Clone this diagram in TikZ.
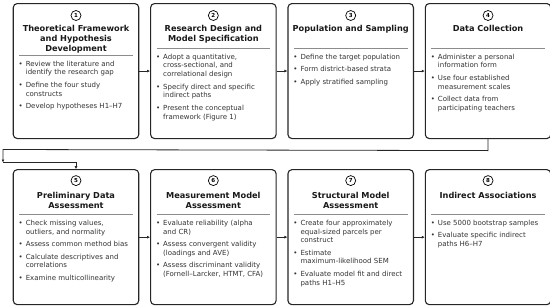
\documentclass[tikz,border=0pt]{standalone}
\usepackage{fontspec}
\setmainfont{DejaVu Sans}
\usetikzlibrary{arrows.meta,positioning,calc}
\definecolor{fEdge}{RGB}{38,38,38}
\definecolor{fText}{RGB}{51,51,51}
\definecolor{fRule}{RGB}{140,140,140}
\tikzset{
stagebox/.style={rectangle,rounded corners=4pt,draw=fEdge,line width=1.1pt,fill=white,minimum width=125.5pt,minimum height=135pt,inner sep=0pt},
stepnum/.style={circle,draw=black,line width=0.7pt,inner sep=0pt,minimum size=10pt,font=\fontsize{5.5}{6}\selectfont\bfseries},
stagetitle/.style={anchor=north,align=center,inner sep=0pt,font=\fontsize{8.2}{9.8}\selectfont\bfseries,text=black!90},
bullets/.style={anchor=north west,inner sep=0pt,align=left,font=\fontsize{7}{8.7}\selectfont,text=fText},
titlerule/.style={draw=fRule,line width=0.6pt},
arrow/.style={-{Latex[length=3pt,width=3pt]},line width=0.8pt,draw=fEdge}
}
\newenvironment{blist}{\begin{tabular}{@{}l@{\hspace{3pt}}l@{}}}{\end{tabular}}

\begin{document}
\begin{tikzpicture}[x=1pt,y=1pt]
\useasboundingbox (0,0) rectangle (550,-308);
% top row
\node[stagebox,anchor=north west] (s1) at (12.7,-3) {};
\node[stagebox,right=10.75pt of s1] (s2) {};
\node[stagebox,right=10.75pt of s2] (s3) {};
\node[stagebox,right=10.75pt of s3] (s4) {};
% bottom row
\node[stagebox,below=30pt of s1] (s5) {};
\node[stagebox,right=10.75pt of s5] (s6) {};
\node[stagebox,right=10.75pt of s6] (s7) {};
\node[stagebox,right=10.75pt of s7] (s8) {};

% 1
\node[stepnum] (n1) at ($(s1.north)+(0,-12.5)$) {1};
\node[stagetitle] (t1) at ($(s1.north)+(0,-22)$) {Theoretical Framework\\and Hypothesis\\Development};
\draw[titlerule] ($(s1.north west)+(6.5,-52)$) -- ($(s1.north east)+(-6.5,-52)$);
\node[bullets] (b1) at ($(s1.north west)+(5.8,-57)$) {\begin{blist}
\textbullet & Review the literature and\\ & identify the research gap\\[3.8pt]
\textbullet & Define the four study\\ & constructs\\[3.8pt]
\textbullet & Develop hypotheses H1–H7
\end{blist}};

% 2
\node[stepnum] (n2) at ($(s2.north)+(0,-12.5)$) {2};
\node[stagetitle] (t2) at ($(s2.north)+(0,-22)$) {Research Design and\\Model Specification};
\draw[titlerule] ($(s2.north west)+(6.5,-45)$) -- ($(s2.north east)+(-6.5,-45)$);
\node[bullets] (b2) at ($(s2.north west)+(5.8,-50)$) {\begin{blist}
\textbullet & Adopt a quantitative,\\ & cross-sectional, and\\ & correlational design\\[3.8pt]
\textbullet & Specify direct and specific\\ & indirect paths\\[3.8pt]
\textbullet & Present the conceptual\\ & framework (Figure 1)
\end{blist}};

% 3
\node[stepnum] (n3) at ($(s3.north)+(0,-12.5)$) {3};
\node[stagetitle] (t3) at ($(s3.north)+(0,-22)$) {Population and Sampling};
\draw[titlerule] ($(s3.north west)+(6.5,-45)$) -- ($(s3.north east)+(-6.5,-45)$);
\node[bullets] (b3) at ($(s3.north west)+(5.8,-50)$) {\begin{blist}
\textbullet & Define the target population\\[3.8pt]
\textbullet & Form district-based strata\\[3.8pt]
\textbullet & Apply stratified sampling
\end{blist}};

% 4
\node[stepnum] (n4) at ($(s4.north)+(0,-12.5)$) {4};
\node[stagetitle] (t4) at ($(s4.north)+(0,-22)$) {Data Collection};
\draw[titlerule] ($(s4.north west)+(6.5,-45)$) -- ($(s4.north east)+(-6.5,-45)$);
\node[bullets] (b4) at ($(s4.north west)+(5.8,-50)$) {\begin{blist}
\textbullet & Administer a personal\\ & information form\\[3.8pt]
\textbullet & Use four established\\ & measurement scales\\[3.8pt]
\textbullet & Collect data from\\ & participating teachers
\end{blist}};

% 5
\node[stepnum] (n5) at ($(s5.north)+(0,-11.5)$) {5};
\node[stagetitle] (t5) at ($(s5.north)+(0,-23)$) {Preliminary Data\\Assessment};
\draw[titlerule] ($(s5.north west)+(6.5,-45.3)$) -- ($(s5.north east)+(-6.5,-45.3)$);
\node[bullets] (b5) at ($(s5.north west)+(5.8,-50)$) {\begin{blist}
\textbullet & Check missing values,\\ & outliers, and normality\\[3.8pt]
\textbullet & Assess common method bias\\[3.8pt]
\textbullet & Calculate descriptives and\\ & correlations\\[3.8pt]
\textbullet & Examine multicollinearity
\end{blist}};

% 6
\node[stepnum] (n6) at ($(s6.north)+(0,-11.5)$) {6};
\node[stagetitle] (t6) at ($(s6.north)+(0,-23)$) {Measurement Model\\Assessment};
\draw[titlerule] ($(s6.north west)+(6.5,-45.3)$) -- ($(s6.north east)+(-6.5,-45.3)$);
\node[bullets] (b6) at ($(s6.north west)+(5.8,-50)$) {\begin{blist}
\textbullet & Evaluate reliability (alpha\\ & and CR)\\[3.8pt]
\textbullet & Assess convergent validity\\ & (loadings and AVE)\\[3.8pt]
\textbullet & Assess discriminant validity\\ & (Fornell–Larcker, HTMT, CFA)
\end{blist}};

% 7
\node[stepnum] (n7) at ($(s7.north)+(0,-11.5)$) {7};
\node[stagetitle] (t7) at ($(s7.north)+(0,-23)$) {Structural Model\\Assessment};
\draw[titlerule] ($(s7.north west)+(6.5,-45.3)$) -- ($(s7.north east)+(-6.5,-45.3)$);
\node[bullets] (b7) at ($(s7.north west)+(5.8,-50)$) {\begin{blist}
\textbullet & Create four approximately\\ & equal-sized parcels per\\ & construct\\[3.8pt]
\textbullet & Estimate\\ & maximum-likelihood SEM\\[3.8pt]
\textbullet & Evaluate model fit and direct\\ & paths H1–H5
\end{blist}};

% 8
\node[stepnum] (n8) at ($(s8.north)+(0,-11.5)$) {8};
\node[stagetitle] (t8) at ($(s8.north)+(0,-23)$) {Indirect Associations};
\draw[titlerule] ($(s8.north west)+(6.5,-45.3)$) -- ($(s8.north east)+(-6.5,-45.3)$);
\node[bullets] (b8) at ($(s8.north west)+(5.8,-50)$) {\begin{blist}
\textbullet & Use 5000 bootstrap samples\\[3.8pt]
\textbullet & Evaluate specific indirect\\ & paths H6–H7
\end{blist}};

% connectors
\draw[arrow] (s1.east) -- (s2.west);
\draw[arrow] (s2.east) -- (s3.west);
\draw[arrow] (s3.east) -- (s4.west);
\draw[arrow] (s5.east) -- (s6.west);
\draw[arrow] (s6.east) -- (s7.west);
\draw[arrow] (s7.east) -- (s8.west);
\coordinate (bendR) at ($(s4.south)+(0,-11.5)$);
\coordinate (bendL) at (3,-149.5);
\coordinate (drop) at (3,-162.5);
\draw[arrow] (s4.south) -- (bendR) -- (bendL) -- (drop);
\draw[arrow] (drop) -| (s5.north);
\end{tikzpicture}
\end{document}
